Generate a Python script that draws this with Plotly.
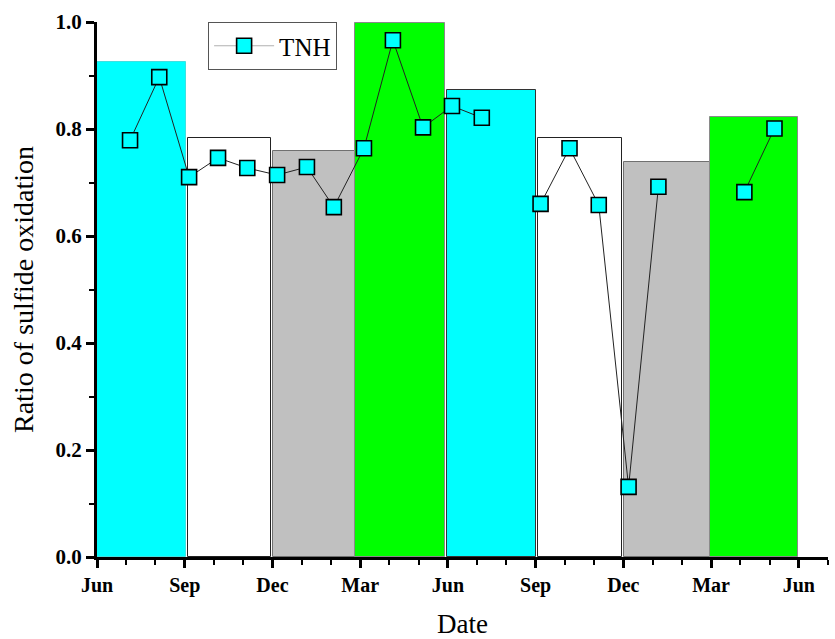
import plotly.graph_objects as go

# Seasonal mean ratio (months since June of the first year)
season_start = [0.0, 3.11, 6.02, 8.84, 11.97, 15.08, 18.02, 20.98]
season_end = [3.04, 5.95, 8.82, 11.9, 15.0, 17.95, 20.96, 23.97]
season_ratio = [0.925, 0.783, 0.759, 0.998, 0.873, 0.783, 0.738, 0.822]
season_fill = ["#00ffff", "#ffffff", "#c0c0c0", "#00ff00",
               "#00ffff", "#ffffff", "#c0c0c0", "#00ff00"]
season_edge = ["#40e0e0", "#222222", "#707070", "#8a8a8a",
               "#333333", "#222222", "#707070", "#8a8a8a"]

# Monthly TNH samples (months since June of the first year)
tnh_month = [1.13, 2.13, 3.15, 4.14, 5.14, 6.16, 7.18, 8.1, 9.13, 10.12,
             11.15, 12.14, 13.16, 14.2, 15.17, 16.16, 17.16, 18.18, 19.2,
             20.2, 21.2, 22.14, 23.17]
tnh_ratio = [0.779, 0.897, 0.710, 0.746, 0.727, 0.714, 0.729, 0.654, 0.764, 0.966,
             0.803, 0.843, 0.821, None, 0.660, 0.764, 0.658, 0.131, 0.692,
             None, None, 0.682, 0.801]

tick_pos = [0, 3, 6, 9, 12, 15, 18, 21, 24]
tick_text = ["Jun", "Sep", "Dec", "Mar", "Jun", "Sep", "Dec", "Mar", "Jun"]

bar_mid = [(a + b) / 2 for a, b in zip(season_start, season_end)]
bar_width = [b - a for a, b in zip(season_start, season_end)]

marker_style = dict(symbol="square", size=15, color="#00ffff",
                    line=dict(color="#000000", width=1.6))

fig = go.Figure()
fig.add_trace(go.Bar(
    x=bar_mid, y=season_ratio, width=bar_width,
    marker=dict(color=season_fill, line=dict(color=season_edge, width=1)),
    showlegend=False, hoverinfo="skip",
))
fig.add_trace(go.Scatter(
    x=tnh_month, y=tnh_ratio, name="TNH", mode="lines+markers",
    connectgaps=False, showlegend=False,
    line=dict(color="#222222", width=1),
    marker=marker_style,
))
# legend entry with the lighter key line
fig.add_trace(go.Scatter(
    x=[None], y=[None], name="TNH", mode="lines+markers",
    line=dict(color="#b0b0b0", width=1),
    marker=marker_style,
))

font_serif = "Liberation Serif, Times New Roman, serif"
fig.update_layout(
    width=835, height=639,
    margin=dict(l=97, r=7, t=22, b=82, autoexpand=False),
    paper_bgcolor="white", plot_bgcolor="rgba(0,0,0,0)",
    font=dict(family=font_serif, color="black"),
    bargap=0,
    legend=dict(x=0.152, y=1.0, xanchor="left", yanchor="top",
                bordercolor="#555555", borderwidth=1, bgcolor="white",
                font=dict(size=25, family=font_serif),
                itemwidth=60, tracegroupgap=0),
)
fig.update_xaxes(
    range=[0, 25], showgrid=False, zeroline=False, automargin=False,
    showline=True, linecolor="black", linewidth=3,
    tickmode="array", tickvals=tick_pos, ticktext=tick_text,
    ticks="outside", ticklen=8, tickwidth=3, tickcolor="black",
    tickfont=dict(size=20, family=font_serif, weight="bold"),
    minor=dict(tickmode="linear", tick0=0, dtick=1, ticks="outside",
               ticklen=5, tickwidth=2, tickcolor="black"),
    title=dict(text="Date", font=dict(size=27, family=font_serif), standoff=24),
)
fig.update_yaxes(
    range=[0, 1.0], showgrid=False, zeroline=False, automargin=False,
    showline=True, linecolor="black", linewidth=3,
    tickmode="linear", tick0=0, dtick=0.2, tickformat=".1f",
    ticks="outside", ticklen=8, tickwidth=3, tickcolor="black",
    tickfont=dict(size=21, family=font_serif, weight="bold"),
    minor=dict(tickmode="linear", tick0=0, dtick=0.1, ticks="outside",
               ticklen=5, tickwidth=2, tickcolor="black"),
    title=dict(text="Ratio of sulfide oxidation",
               font=dict(size=28, family=font_serif), standoff=14),
)

fig.write_html("out.html")
